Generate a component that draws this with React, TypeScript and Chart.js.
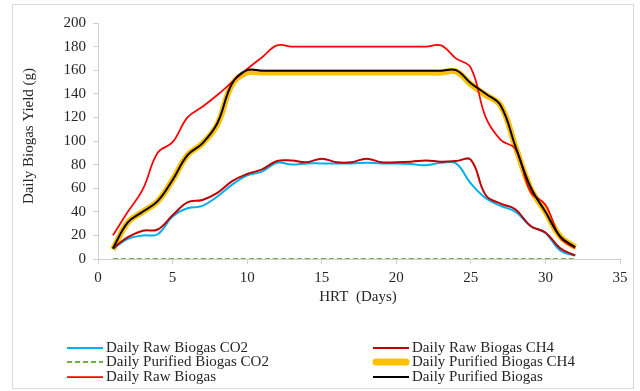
import React, { useEffect, useRef } from "react";
import { Chart, registerables } from "chart.js";

Chart.register(...registerables);

const FONT = "'Liberation Serif', 'Times New Roman', Times, serif";

const days = [1, 2, 3, 4, 5, 6, 7, 8, 9, 10, 11, 12, 13, 14, 15, 16, 17, 18, 19, 20, 21, 22, 23, 24, 25, 26, 27, 28, 29, 30, 31, 32];

const rawCO2 = [8.5, 17, 20, 21, 36, 43, 45, 53, 63, 71, 74, 81.5, 80, 81, 81, 81, 81, 81.5, 81, 81, 80.5, 79.5, 81.5, 81, 64, 51.5, 45, 40, 28, 22, 7, 3];
const rawCH4 = [9, 18.5, 24, 25, 37, 48, 50, 56, 66, 72, 76, 83, 83.5, 82, 85, 82, 82, 85, 82, 82, 82.5, 83.5, 82.5, 83, 84, 54, 47, 42, 28, 22.5, 9, 3];
const purifiedCO2 = [0, 0, 0, 0, 0, 0, 0, 0, 0, 0, 0, 0, 0, 0, 0, 0, 0, 0, 0, 0, 0, 0, 0, 0, 0, 0, 0, 0, 0, 0, 0, 0];
const purifiedCH4 = [8, 31, 40, 49, 67, 88, 98, 114, 148, 158, 158, 158, 158, 158, 158, 158, 158, 158, 158, 158, 158, 158, 158, 159, 148, 139, 130, 95, 60, 40, 19, 10];
const rawBiogas = [20, 40, 59, 90, 99, 120, 129, 139, 150, 161, 171, 181, 180, 180, 180, 180, 180, 180, 180, 180, 180, 180, 181, 170, 162, 120, 101, 93, 57, 46, 18, 9];
const purifiedBiogas = [9, 31, 40, 49, 67, 88, 98, 115, 149, 160, 159.5, 159.5, 159.5, 159.5, 159.5, 159.5, 159.5, 159.5, 159.5, 159.5, 159.5, 159.5, 159.5, 160, 149, 140, 130, 95, 61, 40, 19, 10];

const xTicks = [0, 5, 10, 15, 20, 25, 30, 35];
const yTicks = [0, 20, 40, 60, 80, 100, 120, 140, 160, 180, 200];

const legendOrder = [
  "Daily Raw Biogas CO2",
  "Daily Raw Biogas CH4",
  "Daily Purified Biogas CO2",
  "Daily Purified Biogas CH4",
  "Daily Raw Biogas",
  "Daily Purified Biogas",
];

const xTitle = "HRT  (Days)";
const yTitle = "Daily Biogas Yield (g)";

function series(values: number[]) {
  return days.map((d, i) => ({ x: d, y: values[i] }));
}

const framePlugin = {
  id: "frame",
  beforeDraw(chart: any) {
    const ctx = chart.ctx;
    ctx.save();
    ctx.fillStyle = "#ffffff";
    ctx.fillRect(0, 0, chart.width, chart.height);
    ctx.strokeStyle = "#d9d9d9";
    ctx.lineWidth = 1;
    ctx.strokeRect(12.5, 4.5, 621, 384);
    ctx.restore();
  },
};

const textPlugin = {
  id: "customText",
  afterDraw(chart: any) {
    const ctx = chart.ctx;
    ctx.save();
    ctx.fillStyle = "#262626";
    ctx.font = `15px ${FONT}`;
    ctx.textAlign = "center";
    ctx.textBaseline = "middle";
    // axis titles
    ctx.fillText(xTitle, 358, 297);
    ctx.save();
    ctx.translate(29, 136);
    ctx.rotate(-Math.PI / 2);
    ctx.fillText(yTitle, 0, 0);
    ctx.restore();

    // legend
    const cols = [
      { a: 67, b: 103, t: 106 },
      { a: 373, b: 409, t: 412 },
    ];
    const rows = [348, 362, 377];
    legendOrder.forEach((label, i) => {
      const ds = chart.data.datasets.find((d: any) => d.label === label);
      if (!ds) return;
      const c = cols[i % 2];
      const y = rows[Math.floor(i / 2)];
      ctx.save();
      ctx.strokeStyle = ds.borderColor;
      ctx.lineWidth = ds.borderWidth > 4 ? 7 : ds.borderWidth;
      ctx.lineCap = ds.borderWidth > 4 ? "round" : "butt";
      ctx.setLineDash(ds.borderDash || []);
      ctx.beginPath();
      ctx.moveTo(ds.borderWidth > 4 ? c.a + 3 : c.a, y);
      ctx.lineTo(ds.borderWidth > 4 ? c.b - 3 : c.b, y);
      ctx.stroke();
      ctx.restore();
      ctx.fillStyle = "#262626";
      ctx.textAlign = "left";
      ctx.textBaseline = "middle";
      ctx.fillText(label, c.t, y);
    });
    ctx.restore();
  },
};

export default function App() {
  const canvasRef = useRef<HTMLCanvasElement | null>(null);

  useEffect(() => {
    document.body.style.margin = "0";
    const canvas = canvasRef.current;
    if (!canvas) return;
    const base = {
      pointRadius: 0,
      pointHoverRadius: 0,
      fill: false,
      tension: 0.4,
    };
    const chart = new Chart(canvas, {
      type: "line",
      data: {
        datasets: [
          { ...base, label: "Daily Purified Biogas", data: series(purifiedBiogas), borderColor: "#000000", borderWidth: 2 },
          { ...base, label: "Daily Raw Biogas", data: series(rawBiogas), borderColor: "#FF0000", borderWidth: 1.75 },
          { ...base, label: "Daily Raw Biogas CH4", data: series(rawCH4), borderColor: "#C00000", borderWidth: 2 },
          { ...base, label: "Daily Raw Biogas CO2", data: series(rawCO2), borderColor: "#00B0F0", borderWidth: 2 },
          { ...base, label: "Daily Purified Biogas CH4", data: series(purifiedCH4), borderColor: "#FFC000", borderWidth: 6 },
          { ...base, label: "Daily Purified Biogas CO2", data: series(purifiedCO2), borderColor: "#70AD47", borderWidth: 2, borderDash: [5, 3] },
        ] as any,
      },
      options: {
        responsive: false,
        animation: false,
        events: [],
        layout: { padding: { left: 0, right: 20, top: 23, bottom: 82 } },
        plugins: {
          legend: { display: false },
          tooltip: { enabled: false },
          title: { display: false },
        },
        scales: {
          x: {
            type: "linear",
            min: 0,
            max: 35,
            afterFit: (s: any) => {
              s.height = 50;
            },
            afterBuildTicks: (s: any) => {
              s.ticks = xTicks.map((v) => ({ value: v }));
            },
            grid: { display: true, drawOnChartArea: false, drawTicks: true, tickLength: 5, color: "#d0d0d0" },
            border: { display: true, color: "#d0d0d0", width: 1 },
            ticks: { color: "#262626", font: { family: FONT, size: 15 }, padding: 5, maxRotation: 0, autoSkip: false },
          },
          y: {
            type: "linear",
            min: 0,
            max: 200,
            afterFit: (s: any) => {
              s.width = 98;
            },
            afterBuildTicks: (s: any) => {
              s.ticks = yTicks.map((v) => ({ value: v }));
            },
            grid: { display: true, drawOnChartArea: false, drawTicks: true, tickLength: 5, color: "#d0d0d0" },
            border: { display: true, color: "#d0d0d0", width: 1 },
            ticks: { color: "#262626", font: { family: FONT, size: 15 }, padding: 7, autoSkip: false },
          },
        },
      } as any,
      plugins: [framePlugin, textPlugin],
    });
    return () => chart.destroy();
  }, []);

  return (
    <div style={{ position: "fixed", left: 0, top: 0, width: 640, height: 391 }}>
      <canvas ref={canvasRef} width={640} height={391} style={{ width: 640, height: 391, display: "block" }} />
    </div>
  );
}
